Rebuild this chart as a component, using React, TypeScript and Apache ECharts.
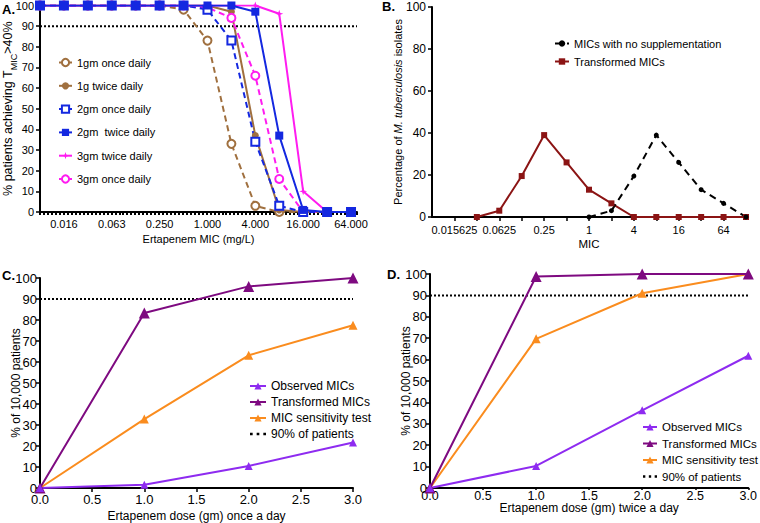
import React, { useEffect, useRef } from 'react';
import * as echarts from 'echarts';

// ---------- Panel A ----------
const micA = [0.0078125, 0.015625, 0.03125, 0.0625, 0.125, 0.25, 0.5, 1, 2, 4, 8, 16, 32, 64];
const a1gOnce = [100, 100, 100, 100, 100, 100, 98, 83, 33, 3, 0, 0, 0, 0];
const a1gTwice = [100, 100, 100, 100, 100, 100, 100, 100, 97, 37, 1, 0, 0, 0];
const a2gOnce = [100, 100, 100, 100, 100, 100, 100, 98, 83, 34, 3, 0, 0, 0];
const a2gTwice = [100, 100, 100, 100, 100, 100, 100, 100, 100, 97, 37, 1, 0, 0];
const a3gTwice = [100, 100, 100, 100, 100, 100, 100, 100, 100, 100, 96, 10, 0, 0];
const a3gOnce = [100, 100, 100, 100, 100, 100, 100, 99, 94, 66, 16, 0, 0, 0];
const aThreshold = 90;

// ---------- Panel B ----------
const micBNoSupp = [1, 2, 4, 8, 16, 32, 64, 128];
const bNoSupp = [0, 3, 19.5, 39, 26, 13, 6.5, 0];
const micBTransformed = [0.03125, 0.0625, 0.125, 0.25, 0.5, 1, 2, 4, 8, 16, 32, 64, 128];
const bTransformed = [0, 3, 19.5, 39, 26, 13, 6.5, 0, 0, 0, 0, 0, 0];

// ---------- Panels C & D ----------
const doses = [0, 1, 2, 3];
const cObserved = [0, 1.5, 10.5, 21.7];
const cTransformed = [0, 83.3, 96, 100];
const cSensitivity = [0, 32.8, 63.2, 77.5];
const dObserved = [0, 10.3, 36.3, 61.8];
const dTransformed = [0, 98.8, 100, 100];
const dSensitivity = [0, 69.7, 91, 100];
const patientsLine = [90, 90];
const patientsX = [0, 3];

const FONT = 'Liberation Sans, Arial, Helvetica, sans-serif';
const BROWN = '#A0703F';
const BLUE = '#1428E0';
const MAGENTA = '#FF1CF0';
const VIOLET = '#8E2BF0';
const PURPLE = '#7E0A80';
const ORANGE = '#FA8C1E';
const DARKRED = '#8B1414';
const DOTS_ICON = 'path://M0,0h2v2h-2z M5,0h2v2h-2z M10,0h2v2h-2z';

const pairs = (xs: number[], ys: number[]) => xs.map((x, i) => [x, ys[i]]);

const axisLine = { lineStyle: { color: '#000', width: 2 } };

export default function App() {
  const ref = useRef<HTMLDivElement>(null);

  useEffect(() => {
    if (!ref.current) return;
    const chart = echarts.init(ref.current, null, { renderer: 'svg' });

    const logFmtA = (v: number) => {
      const e = Math.round(Math.log2(v));
      if (e % 2 !== 0) return '';
      return Math.pow(2, e).toFixed(3);
    };
    const logFmtB = (v: number) => {
      const e = Math.round(Math.log2(v));
      if (e % 2 !== 0) return '';
      return String(Math.pow(2, e));
    };

    const valueY = (gridIndex: number, interval: number, fontSize: number, name: string, nameGap: number, nameSize: number, rich: any, margin: number) => ({
      type: 'value',
      gridIndex,
      min: 0,
      max: 100,
      interval,
      name,
      nameLocation: 'middle',
      nameGap,
      nameMoveOverlap: false,
      nameTextStyle: { color: '#000', fontFamily: FONT, fontSize: nameSize, rich },
      axisLine: { show: true, ...axisLine },
      axisTick: { show: true, length: 4, lineStyle: { color: '#000', width: 1.5 } },
      axisLabel: { color: '#000', fontSize, fontFamily: FONT, margin },
      splitLine: { show: false },
    });

    const legendItems = (names: string[]) =>
      names.map((n) => (n === '90% of patients' ? { name: n, icon: DOTS_ICON } : n));

    const option: any = {
      animation: false,
      backgroundColor: '#fff',
      textStyle: { fontFamily: FONT },
      grid: [
        { left: 40, top: 5, width: 317, height: 207 },
        { left: 432, top: 7, width: 314, height: 210 },
        { left: 40, top: 278, width: 313, height: 210 },
        { left: 430, top: 274, width: 322, height: 214 },
      ],
      xAxis: [
        {
          type: 'log',
          logBase: 2,
          gridIndex: 0,
          min: 0.0078125,
          max: Math.pow(2, 6.25),
          interval: 1,
          name: 'Ertapenem MIC (mg/L)',
          nameLocation: 'middle',
          nameGap: 21,
          nameMoveOverlap: false,
          nameTextStyle: { color: '#000', fontSize: 11, fontFamily: FONT },
          axisLine: { show: true, ...axisLine },
          axisTick: { show: false },
          axisLabel: { color: '#000', fontSize: 11, fontFamily: FONT, margin: 6, formatter: logFmtA, showMaxLabel: false },
          splitLine: { show: false },
        },
        {
          type: 'log',
          logBase: 2,
          gridIndex: 1,
          min: 0.0078125,
          max: 128,
          interval: 1,
          name: 'MIC',
          nameLocation: 'middle',
          nameGap: 21,
          nameMoveOverlap: false,
          nameTextStyle: { color: '#000', fontSize: 11.5, fontFamily: FONT },
          axisLine: { show: true, ...axisLine },
          axisTick: { show: true, length: 4, lineStyle: { color: '#000', width: 1.5 } },
          axisLabel: { color: '#000', fontSize: 11, fontFamily: FONT, margin: 7, formatter: logFmtB, showMinLabel: false, showMaxLabel: false },
          splitLine: { show: false },
        },
        {
          type: 'value',
          gridIndex: 2,
          min: 0,
          max: 3,
          interval: 0.5,
          name: 'Ertapenem dose (gm) once a day',
          nameLocation: 'middle',
          nameGap: 22,
          nameMoveOverlap: false,
          nameTextStyle: { color: '#000', fontSize: 12, fontFamily: FONT },
          axisLine: { show: true, ...axisLine },
          axisTick: { show: true, length: 4, lineStyle: { color: '#000', width: 1.5 } },
          axisLabel: { color: '#000', fontSize: 13, fontFamily: FONT, margin: 5, formatter: (v: number) => v.toFixed(1) },
          splitLine: { show: false },
        },
        {
          type: 'value',
          gridIndex: 3,
          min: 0,
          max: 3,
          interval: 0.5,
          name: 'Ertapenem dose (gm) twice a day',
          nameLocation: 'middle',
          nameGap: 14,
          nameMoveOverlap: false,
          nameTextStyle: { color: '#000', fontSize: 12, fontFamily: FONT },
          axisLine: { show: true, ...axisLine },
          axisTick: { show: true, length: 2, lineStyle: { color: '#000', width: 1.5 } },
          axisLabel: { color: '#000', fontSize: 12.5, fontFamily: FONT, margin: 1, formatter: (v: number) => v.toFixed(1) },
          splitLine: { show: false },
        },
        // dense minor-tick strip under panel A's axis
        {
          type: 'value',
          gridIndex: 0,
          position: 'bottom',
          min: 0,
          max: 1,
          interval: 0.0125,
          axisLine: { show: false },
          axisTick: { show: true, length: 3, lineStyle: { color: '#000', width: 2 } },
          axisLabel: { show: false },
          splitLine: { show: false },
        },
      ],
      yAxis: [
        valueY(0, 10, 11, '{a|% patients achieving T}{s|MIC}{a|>40%}', 22, 12.5, {
          a: { fontSize: 12.5, fontFamily: FONT, color: '#000', verticalAlign: 'bottom', padding: [0, 0, 4, 0] },
          s: { fontSize: 9, fontFamily: FONT, color: '#000', verticalAlign: 'bottom' },
        }, 6),
        valueY(1, 20, 12, '{a|Percentage of }{i|M. tuberculosis}{a| isolates}', 29, 11, {
          a: { fontSize: 11, fontFamily: FONT, color: '#000' },
          i: { fontSize: 11, fontFamily: FONT, color: '#000', fontStyle: 'italic' },
        }, 6),
        valueY(2, 10, 13, '% of 10,000 patients', 18, 12, undefined, 3),
        valueY(3, 10, 13, '% of 10,000 patients', 18, 12, undefined, 3),
      ],
      legend: [
        {
          orient: 'vertical',
          left: 53,
          top: 52,
          itemGap: 12.3,
          itemWidth: 13,
          itemHeight: 9,
          textStyle: { fontSize: 11, color: '#000', fontFamily: FONT },
          data: ['1gm once daily', '1g twice daily', '2gm once daily', '2gm  twice daily', '3gm twice daily', '3gm once daily'],
        },
        {
          orient: 'vertical',
          left: 549,
          top: 33,
          itemGap: 7,
          itemWidth: 14,
          itemHeight: 8,
          textStyle: { fontSize: 11, color: '#000', fontFamily: FONT },
          data: ['MICs with no supplementation', 'Transformed MICs (B)'],
          formatter: (n: string) => n.replace(' (B)', ''),
        },
        {
          orient: 'vertical',
          left: 244,
          top: 375,
          itemGap: 4,
          itemWidth: 16,
          itemHeight: 9,
          textStyle: { fontSize: 12, color: '#000', fontFamily: FONT },
          data: legendItems(['Observed MICs', 'Transformed MICs', 'MIC sensitivity test', '90% of patients']),
        },
        {
          orient: 'vertical',
          left: 637,
          top: 416,
          itemGap: 4.5,
          itemWidth: 14,
          itemHeight: 9,
          textStyle: { fontSize: 11.5, color: '#000', fontFamily: FONT },
          data: legendItems(['Observed MICs', 'Transformed MICs', 'MIC sensitivity test', '90% of patients']),
        },
      ],
      graphic: [
        { type: 'text', left: 2, top: 3, style: { text: 'A.', font: `bold 13px ${FONT}`, fill: '#000' } },
        { type: 'text', left: 382, top: 0, style: { text: 'B.', font: `bold 13px ${FONT}`, fill: '#000' } },
        { type: 'text', left: 2, top: 269, style: { text: 'C.', font: `bold 13px ${FONT}`, fill: '#000' } },
        { type: 'text', left: 387, top: 268, style: { text: 'D.', font: `bold 13px ${FONT}`, fill: '#000' } },
      ],
      series: [
        // ----- A -----
        {
          name: '90% A', type: 'line', xAxisIndex: 0, yAxisIndex: 0, symbol: 'none', silent: true,
          data: [[0.0078125, aThreshold], [Math.pow(2, 6.25), aThreshold]],
          lineStyle: { color: '#000', width: 2, type: [2, 2] },
        },
        {
          name: '1gm once daily', type: 'line', xAxisIndex: 0, yAxisIndex: 0,
          data: pairs(micA, a1gOnce), symbol: 'emptyCircle', symbolSize: 8,
          itemStyle: { color: BROWN, borderWidth: 1.5 }, lineStyle: { color: BROWN, width: 2, type: [6, 4] },
        },
        {
          name: '1g twice daily', type: 'line', xAxisIndex: 0, yAxisIndex: 0,
          data: pairs(micA, a1gTwice), symbol: 'circle', symbolSize: 7,
          itemStyle: { color: BROWN }, lineStyle: { color: BROWN, width: 2 },
        },
        {
          name: '3gm once daily', type: 'line', xAxisIndex: 0, yAxisIndex: 0,
          data: pairs(micA, a3gOnce), symbol: 'emptyCircle', symbolSize: 8,
          itemStyle: { color: MAGENTA, borderWidth: 1.5 }, lineStyle: { color: MAGENTA, width: 2, type: [6, 4] },
        },
        {
          name: '2gm once daily', type: 'line', xAxisIndex: 0, yAxisIndex: 0,
          data: pairs(micA, a2gOnce), symbol: 'emptyRect', symbolSize: 8,
          itemStyle: { color: BLUE, borderWidth: 1.5 }, lineStyle: { color: BLUE, width: 2, type: [6, 4] },
        },
        {
          name: '3gm twice daily', type: 'line', xAxisIndex: 0, yAxisIndex: 0,
          data: pairs(micA, a3gTwice), symbol: 'path://M5,0 L6.2,3.8 L10,5 L6.2,6.2 L5,10 L3.8,6.2 L0,5 L3.8,3.8 Z', symbolSize: 8,
          itemStyle: { color: MAGENTA }, lineStyle: { color: MAGENTA, width: 2 },
        },
        {
          name: '2gm  twice daily', type: 'line', xAxisIndex: 0, yAxisIndex: 0,
          data: pairs(micA, a2gTwice), symbol: 'rect', symbolSize: 8,
          itemStyle: { color: BLUE }, lineStyle: { color: BLUE, width: 2 },
        },
        // ----- B -----
        {
          name: 'Transformed MICs (B)', type: 'line', xAxisIndex: 1, yAxisIndex: 1,
          data: pairs(micBTransformed, bTransformed), symbol: 'rect', symbolSize: 6,
          itemStyle: { color: DARKRED }, lineStyle: { color: DARKRED, width: 2 },
        },
        {
          name: 'MICs with no supplementation', type: 'line', xAxisIndex: 1, yAxisIndex: 1,
          data: pairs(micBNoSupp, bNoSupp), symbol: 'circle', symbolSize: 5,
          itemStyle: { color: '#000' }, lineStyle: { color: '#000', width: 2, type: [7, 5] },
        },
        // ----- C -----
        {
          name: '90% of patients', type: 'line', xAxisIndex: 2, yAxisIndex: 2, symbol: 'none',
          data: pairs(patientsX, patientsLine), lineStyle: { color: '#000', width: 2, type: [2, 2] }, itemStyle: { color: '#000' },
        },
        {
          name: 'MIC sensitivity test', type: 'line', xAxisIndex: 2, yAxisIndex: 2,
          data: pairs(doses, cSensitivity), symbol: 'triangle', symbolSize: 9,
          itemStyle: { color: ORANGE }, lineStyle: { color: ORANGE, width: 2 },
        },
        {
          name: 'Transformed MICs', type: 'line', xAxisIndex: 2, yAxisIndex: 2,
          data: pairs(doses, cTransformed), symbol: 'triangle', symbolSize: 11,
          itemStyle: { color: PURPLE }, lineStyle: { color: PURPLE, width: 2 },
        },
        {
          name: 'Observed MICs', type: 'line', xAxisIndex: 2, yAxisIndex: 2,
          data: pairs(doses, cObserved), symbol: 'triangle', symbolSize: 8,
          itemStyle: { color: VIOLET }, lineStyle: { color: VIOLET, width: 2 },
        },
        // ----- D -----
        {
          name: '90% of patients', type: 'line', xAxisIndex: 3, yAxisIndex: 3, symbol: 'none',
          data: pairs(patientsX, patientsLine), lineStyle: { color: '#000', width: 2, type: [2, 2] }, itemStyle: { color: '#000' },
        },
        {
          name: 'MIC sensitivity test', type: 'line', xAxisIndex: 3, yAxisIndex: 3,
          data: pairs(doses, dSensitivity), symbol: 'triangle', symbolSize: 9,
          itemStyle: { color: ORANGE }, lineStyle: { color: ORANGE, width: 2 },
        },
        {
          name: 'Transformed MICs', type: 'line', xAxisIndex: 3, yAxisIndex: 3,
          data: pairs(doses, dTransformed), symbol: 'triangle', symbolSize: 11,
          itemStyle: { color: PURPLE }, lineStyle: { color: PURPLE, width: 2 },
        },
        {
          name: 'Observed MICs', type: 'line', xAxisIndex: 3, yAxisIndex: 3,
          data: pairs(doses, dObserved), symbol: 'triangle', symbolSize: 8,
          itemStyle: { color: VIOLET }, lineStyle: { color: VIOLET, width: 2 },
        },
      ],
    };

    chart.setOption(option);
    return () => chart.dispose();
  }, []);

  return <div ref={ref} style={{ position: 'fixed', left: 0, top: 0, width: 760, height: 523 }} />;
}
